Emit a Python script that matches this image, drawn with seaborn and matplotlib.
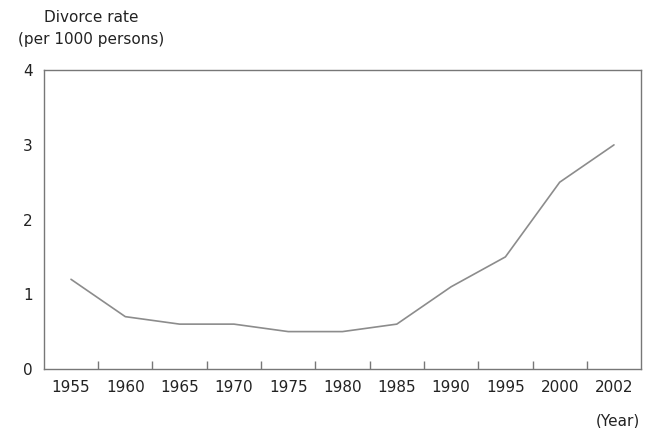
import numpy as np
import pandas as pd
import matplotlib
matplotlib.use("Agg")
import matplotlib.pyplot as plt
import seaborn as sns

years = ["1955", "1960", "1965", "1970", "1975", "1980", "1985", "1990", "1995", "2000", "2002"]
divorce_rate = [1.2, 0.7, 0.6, 0.6, 0.5, 0.5, 0.6, 1.1, 1.5, 2.5, 3.0]
y_ticks = [0, 1, 2, 3, 4]

df = pd.DataFrame({"year": years, "rate": divorce_rate})

sns.set_style("white")
plt.rcParams['font.family'] = ['DejaVu Sans']

fig = plt.figure(figsize=(6.45, 4.28), dpi=100)
ax = fig.add_axes([0.068, 0.138, 0.926, 0.698])

sns.lineplot(data=df, x="year", y="rate", ax=ax, color="#8c8c8c", lw=1.2, sort=False)

ax.set_xlim(-0.5, len(years) - 0.5)
ax.set_ylim(0, 4)
ax.set_yticks(y_ticks)
ax.set_xticks(range(len(years)))
ax.set_xticklabels(years)
ax.set_xticks(np.arange(0.5, len(years) - 1, 1.0), minor=True)
ax.tick_params(axis="x", which="major", length=0, pad=8, labelsize=11, colors="#222222")
ax.tick_params(axis="x", which="minor", direction="in", length=6, width=1, color="#777777")
ax.tick_params(axis="y", which="major", direction="in", length=3, width=1, color="#777777",
               pad=8, labelsize=11, labelcolor="#222222")
ax.tick_params(bottom=True, which="minor")
ax.set_xlabel("")
ax.set_ylabel("")

for s in ax.spines.values():
    s.set_color("#777777")
    s.set_linewidth(1)

fig.text(0.141, 0.960, "Divorce rate", ha="center", va="center", fontsize=11, color="#222222")
fig.text(0.141, 0.907, "(per 1000 persons)", ha="center", va="center", fontsize=11, color="#222222")
fig.text(0.992, 0.017, "(Year)", ha="right", va="center", fontsize=11, color="#222222")

fig.savefig("out.png", dpi=100)
